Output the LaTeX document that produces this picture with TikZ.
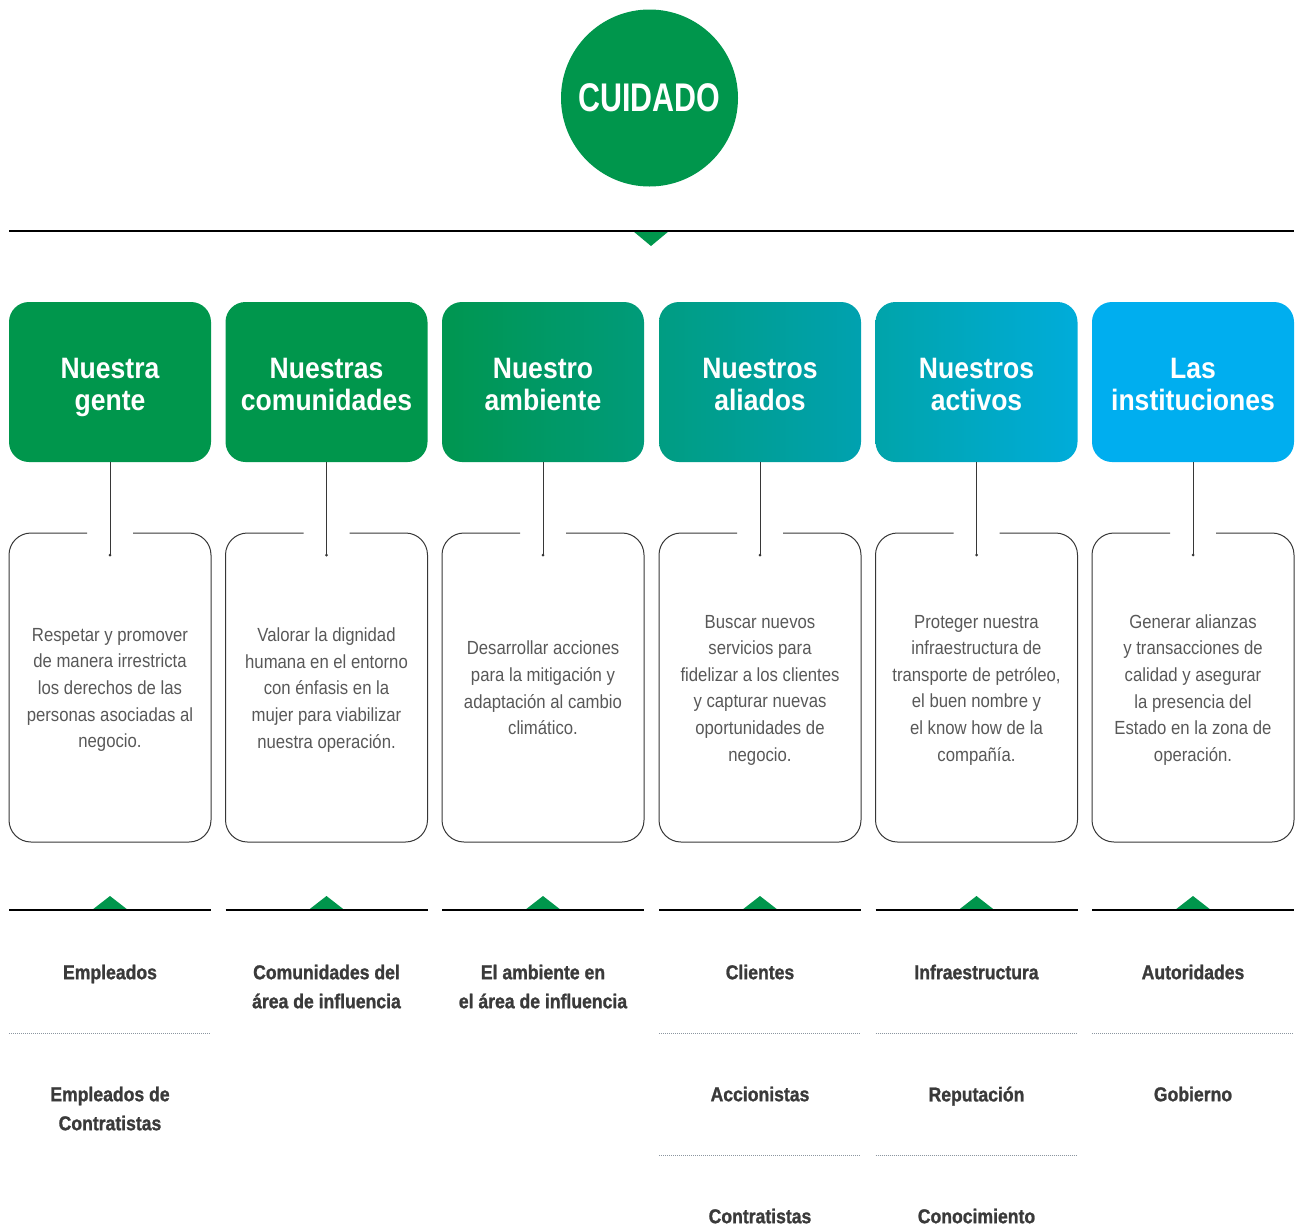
\documentclass[tikz,border=0pt]{standalone}
\usepackage{fontspec}
\setmainfont{Liberation Sans}
\newfontfamily\condfont[FakeStretch=0.9]{Liberation Sans}
\newfontfamily\heavyfont[FakeStretch=0.88,FakeBold=1.2]{Liberation Sans Bold}
\newfontfamily\capfont[FakeStretch=0.76]{Liberation Sans}
\newfontfamily\descfont[FakeStretch=0.88]{Liberation Sans}
\definecolor{cgreen}{RGB}{0,150,76}
\definecolor{c3a}{RGB}{0,150,80}
\definecolor{c3b}{RGB}{0,155,122}
\definecolor{c4a}{RGB}{0,157,130}
\definecolor{c4b}{RGB}{0,161,176}
\definecolor{c5a}{RGB}{0,164,170}
\definecolor{c5b}{RGB}{0,172,218}
\definecolor{c6}{RGB}{0,174,239}
\definecolor{descgray}{RGB}{88,88,88}
\definecolor{labgray}{RGB}{58,58,58}
\definecolor{linegray}{RGB}{55,55,55}
\definecolor{dotgray}{RGB}{140,150,160}
\tikzset{
  titlebox/.style={rounded corners=20pt, minimum width=202pt, minimum height=160pt, inner sep=0pt,
    text=white, align=center, font=\condfont\bfseries\fontsize{29.5}{32}\selectfont,
    text height=56pt, text depth=0pt},
  desctext/.style={align=center, text=descgray, font=\descfont\fontsize{19}{26.6}\selectfont, inner sep=0pt,
    text depth=0pt},
  labeltext/.style={align=center, text=labgray, font=\heavyfont\fontsize{20}{29}\selectfont, inner sep=0pt, anchor=north},
  outline/.style={draw=linegray, line width=1pt, rounded corners=22pt},
  conn/.style={draw=linegray, line width=1pt},
  sepline/.style={draw=black, line width=1.4pt},
  dotsep/.style={draw=dotgray, line width=0.7pt, dash pattern=on 1pt off 1pt},
}
\begin{document}
\begin{tikzpicture}[x=1pt,y=-1pt]
\useasboundingbox (0,0) rectangle (1296,1227);
% top circle
\node[circle, fill=cgreen, minimum size=177pt, inner sep=0pt, text=white,
  font=\capfont\bfseries\fontsize{40}{44}\selectfont] (cuidado) at (649.5,98) {CUIDADO};
\fill[cgreen] (633,231) -- (651,246) -- (669,231) -- cycle;
\draw[sepline, line width=1.2pt] (9,231) -- (1294,231);
% title boxes
\node[titlebox, fill=cgreen] (t1) at (110,382) {Nuestra\\gente};
\node[titlebox, fill=cgreen] (t2) at (326.5,382) {Nuestras\\comunidades};
\node[titlebox, left color=c3a, right color=c3b] (t3) at (543,382) {Nuestro\\ambiente};
\node[titlebox, left color=c4a, right color=c4b] (t4) at (760,382) {Nuestros\\aliados};
\node[titlebox, left color=c5a, right color=c5b] (t5) at (976.5,382) {Nuestros\\activos};
\node[titlebox, fill=c6] (t6) at (1193,382) {Las\\instituciones};
% description boxes, connectors, bottom separators
\foreach \c [count=\i] in {110,326.5,543,760,976.5,1193} {
  \draw[outline] (\c-23,533) -| (\c-101,842) -| (\c+101,533) -- (\c+23,533);
  \coordinate (e\i) at (\c,555);
  \draw[conn] (t\i.south) -- (e\i);
  \fill[linegray] (e\i) circle (1.5pt);
  \fill[cgreen] (\c-18,910) -- (\c,896) -- (\c+18,910) -- cycle;
  \draw[sepline] (\c-101,910) -- (\c+101,910);
}
% descriptions
\node[desctext] (d1) at (110,688) {Respetar y promover\\de manera irrestricta\\los derechos de las\\personas asociadas al\\negocio.};
\node[desctext] (d2) at (326.5,688) {Valorar la dignidad\\humana en el entorno\\con énfasis en la\\mujer para viabilizar\\nuestra operación.};
\node[desctext] (d3) at (543,688) {Desarrollar acciones\\para la mitigación y\\adaptación al cambio\\climático.};
\node[desctext] (d4) at (760,688) {Buscar nuevos\\servicios para\\fidelizar a los clientes\\y capturar nuevas\\oportunidades de\\negocio.};
\node[desctext] (d5) at (976.5,688) {Proteger nuestra\\infraestructura de\\transporte de petróleo,\\el buen nombre y\\el know how de la\\compañía.};
\node[desctext] (d6) at (1193,688) {Generar alianzas\\y transacciones de\\calidad y asegurar\\la presencia del\\Estado en la zona de\\operación.};
% dotted separators
\foreach \c in {110,760,976.5,1193} { \draw[dotsep] (\c-101,1033) -- (\c+101,1033); }
\foreach \c in {760,976.5} { \draw[dotsep] (\c-101,1155) -- (\c+101,1155); }
% labels
\node[labeltext] (l11) at (110,964.5) {Empleados};
\node[labeltext] (l12) at (110,1086.5) {Empleados de\\Contratistas};
\node[labeltext] (l21) at (326.5,964.5) {Comunidades del\\área de influencia};
\node[labeltext] (l31) at (543,964.5) {El ambiente en\\el área de influencia};
\node[labeltext] (l41) at (760,964.5) {Clientes};
\node[labeltext] (l42) at (760,1086.5) {Accionistas};
\node[labeltext] (l43) at (760,1208.5) {Contratistas};
\node[labeltext] (l51) at (976.5,964.5) {Infraestructura};
\node[labeltext] (l52) at (976.5,1086.5) {Reputación};
\node[labeltext] (l53) at (976.5,1208.5) {Conocimiento};
\node[labeltext] (l61) at (1193,964.5) {Autoridades};
\node[labeltext] (l62) at (1193,1086.5) {Gobierno};
\end{tikzpicture}
\end{document}
